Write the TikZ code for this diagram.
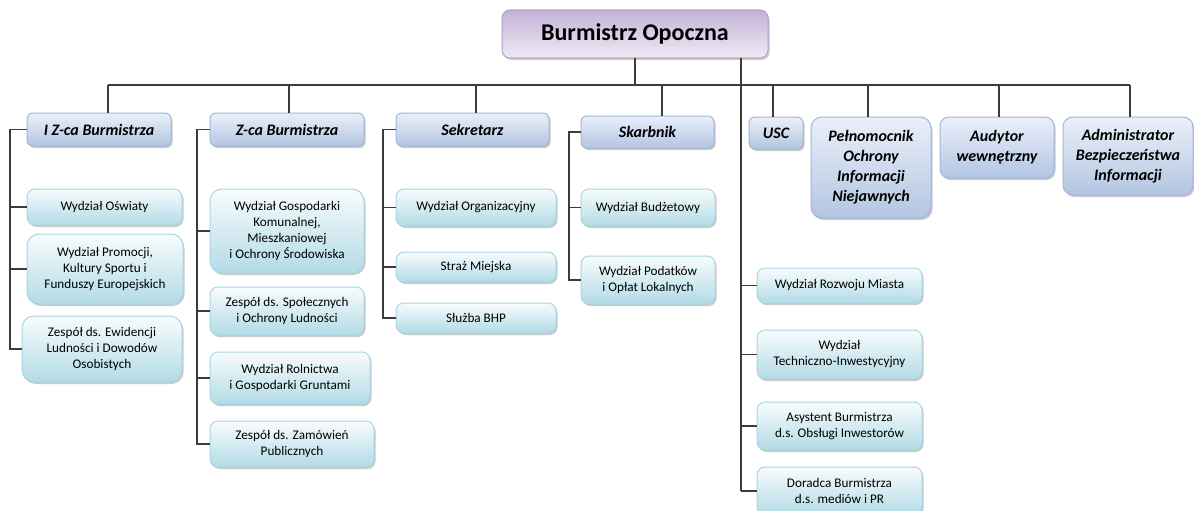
\documentclass[tikz,border=0pt]{standalone}
\usepackage{fontspec}
\setmainfont{Carlito}
\usetikzlibrary{shadows}
\definecolor{hdrtop}{HTML}{EAF0F9}
\definecolor{hdrbot}{HTML}{B3C5E2}
\definecolor{hdrdraw}{HTML}{A2B6D8}
\definecolor{chtop}{HTML}{F8FCFD}
\definecolor{chbot}{HTML}{B2DBE6}
\definecolor{chdraw}{HTML}{A8D6E3}
\definecolor{toptop}{HTML}{C3B2D7}
\definecolor{topbot}{HTML}{EFEBF4}
\definecolor{topdraw}{HTML}{B2A2CA}
\definecolor{linec}{HTML}{3C3C3C}
\tikzset{
  boxbase/.style={rounded corners=6pt, line width=1pt, align=center, inner sep=2pt,
    drop shadow={shadow xshift=1.5pt, shadow yshift=-2pt, opacity=0.35, fill=black!60}},
  topbox/.style={boxbase, top color=toptop, bottom color=topbot, draw=topdraw,
    font=\fontsize{24}{28}\selectfont\bfseries, rounded corners=8pt},
  hdrbox/.style={boxbase, top color=hdrtop, bottom color=hdrbot, draw=hdrdraw,
    font=\fontsize{16}{20}\selectfont\bfseries\itshape},
  chbox/.style={boxbase, top color=chtop, bottom color=chbot, draw=chdraw,
    font=\fontsize{13.2}{16}\selectfont, rounded corners=8pt},
  conn/.style={draw=linec, line width=1.1pt}
}
\begin{document}
\begin{tikzpicture}[x=1pt,y=-1pt]
\useasboundingbox (0,0) rectangle (1194,511);
\clip (0,0) rectangle (1194,511);
% top
\node[topbox, minimum width=266pt, minimum height=48pt] (top) at (635,34) {Burmistrz Opoczna};
% headers
\node[hdrbox, minimum width=144pt, minimum height=33pt] (h1) at (99,129.5) {I Z-ca Burmistrza};
\node[hdrbox, minimum width=154pt, minimum height=33pt] (h2) at (287,129.5) {Z-ca Burmistrza};
\node[hdrbox, minimum width=153pt, minimum height=33pt] (h3) at (472.5,129.5) {Sekretarz};
\node[hdrbox, minimum width=133pt, minimum height=32pt] (h4) at (647.5,132) {Skarbnik};
\node[hdrbox, minimum width=54pt, minimum height=32pt] (h5) at (776,133) {USC};
\node[hdrbox, minimum width=120pt, minimum height=101pt, rounded corners=11pt] (h6) at (871,167.5) {Pełnomocnik\\Ochrony\\Informacji\\Niejawnych};
\node[hdrbox, minimum width=114pt, minimum height=61pt, rounded corners=9pt] (h7) at (997,147.5) {Audytor\\wewnętrzny};
\node[hdrbox, minimum width=130pt, minimum height=78pt, rounded corners=10pt] (h8) at (1128,156) {Administrator\\Bezpieczeństwa\\Informacji};
% column 1
\node[chbox, minimum width=155pt, minimum height=36pt] (c11) at (104.5,207) {Wydział Oświaty};
\node[chbox, minimum width=156pt, minimum height=70pt, rounded corners=12pt] (c12) at (105,269) {Wydział Promocji,\\Kultury Sportu i\\Funduszy Europejskich};
\node[chbox, minimum width=160pt, minimum height=66pt, rounded corners=12pt] (c13) at (102,349) {Zespół ds. Ewidencji\\Ludności i Dowodów\\Osobistych};
% column 2
\node[chbox, minimum width=154pt, minimum height=84pt, rounded corners=12pt] (c21) at (287,231) {Wydział Gospodarki\\Komunalnej,\\Mieszkaniowej\\i Ochrony Środowiska};
\node[chbox, minimum width=154pt, minimum height=48pt] (c22) at (287,311) {Zespół ds. Społecznych\\i Ochrony Ludności};
\node[chbox, minimum width=160pt, minimum height=52pt] (c23) at (290,378) {Wydział Rolnictwa\\i Gospodarki Gruntami};
\node[chbox, minimum width=164pt, minimum height=46pt] (c24) at (292,444) {Zespół ds. Zamówień\\Publicznych};
% column 3
\node[chbox, minimum width=160pt, minimum height=37pt] (c31) at (476,207.5) {Wydział Organizacyjny};
\node[chbox, minimum width=160pt, minimum height=30pt] (c32) at (476,267) {Straż Miejska};
\node[chbox, minimum width=160pt, minimum height=30pt] (c33) at (476,318) {Służba BHP};
% column 4
\node[chbox, minimum width=134pt, minimum height=37pt] (c41) at (648,207.5) {Wydział Budżetowy};
\node[chbox, minimum width=134pt, minimum height=48pt] (c42) at (648,280) {Wydział Podatków\\i Opłat Lokalnych};
% column 5
\node[chbox, minimum width=165pt, minimum height=35pt] (c51) at (839.5,285.5) {Wydział Rozwoju Miasta};
\node[chbox, minimum width=165pt, minimum height=49pt] (c52) at (839.5,354.5) {Wydział\\Techniczno-Inwestycyjny};
\node[chbox, minimum width=165pt, minimum height=48pt] (c53) at (839.5,426) {Asystent Burmistrza\\d.s. Obsługi Inwestorów};
\node[chbox, minimum width=165pt, minimum height=48pt] (c54) at (839.5,491) {Doradca Burmistrza\\d.s. mediów i PR};
% coordinates
\coordinate (t1) at (635,85);
\coordinate (t2) at (741,0);
\coordinate (b1) at (108,85);
\coordinate (b2) at (289,85);
\coordinate (b3) at (476,85);
\coordinate (b4) at (662,85);
\coordinate (b5) at (773,85);
\coordinate (b6) at (868,85);
\coordinate (b7) at (999,85);
\coordinate (b8) at (1130,85);
\coordinate (s1) at (10,0);
\coordinate (s2) at (197,0);
\coordinate (s3) at (383,0);
\coordinate (s4) at (569,0);
% connectors
\draw[conn] (top.south) -- (t1);
\draw[conn] (b1) -- (b8);
\foreach \b/\h in {b1/h1,b2/h2,b3/h3,b4/h4,b5/h5,b6/h6,b7/h7,b8/h8}
  \draw[conn] (\b) -- (\b |- \h.north);
\draw[conn] (top.south -| t2) -- (t2 |- c54.west);
\foreach \c in {c51,c52,c53,c54}
  \draw[conn] (t2 |- \c.west) -- (\c.west);
% column 1
\draw[conn] (h1.west) -| (s1 |- c13.west) -- (c13.west);
\draw[conn] (s1 |- c11.west) -- (c11.west);
\draw[conn] (s1 |- c12.west) -- (c12.west);
% column 2
\draw[conn] (h2.west) -| (s2 |- c24.west) -- (c24.west);
\foreach \c in {c21,c22,c23}
  \draw[conn] (s2 |- \c.west) -- (\c.west);
% column 3
\draw[conn] (h3.west) -| (s3 |- c33.west) -- (c33.west);
\foreach \c in {c31,c32}
  \draw[conn] (s3 |- \c.west) -- (\c.west);
% column 4
\draw[conn] (h4.west) -| (s4 |- c42.west) -- (c42.west);
\draw[conn] (s4 |- c41.west) -- (c41.west);
\end{tikzpicture}
\end{document}
